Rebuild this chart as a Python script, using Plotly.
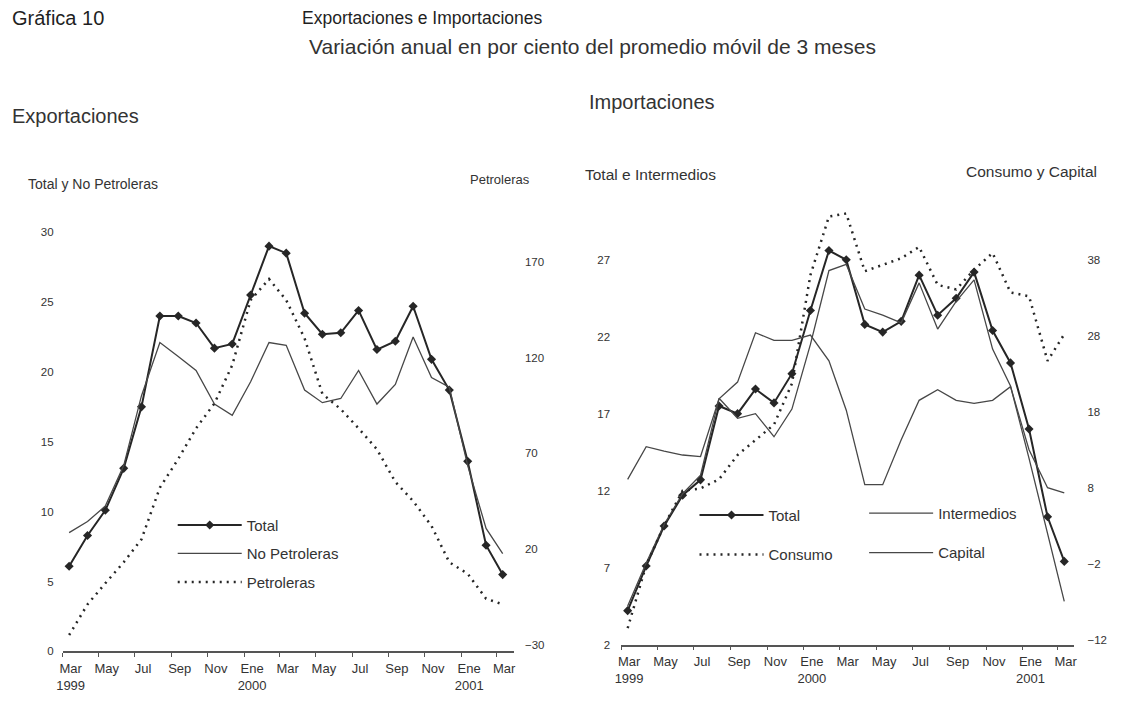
import plotly.graph_objects as go
import pandas as pd

# ---------------- data ----------------
meses = pd.date_range("1999-03-01", periods=25, freq="MS") + pd.Timedelta(days=11)
tick_fechas = pd.date_range("1999-03-01", "2001-03-01", freq="2MS")
tick_textos = ["Mar<br>1999", "May", "Jul", "Sep", "Nov", "Ene<br>2000", "Mar", "May",
               "Jul", "Sep", "Nov", "Ene<br>2001", "Mar"]

# Exportaciones (eje izquierdo: Total y No Petroleras; eje derecho: Petroleras)
exp_total = [6.1, 8.3, 10.1, 13.1, 17.5, 24.0, 24.0, 23.5, 21.7, 22.0, 25.5, 29.0, 28.5,
             24.2, 22.7, 22.8, 24.4, 21.6, 22.2, 24.7, 20.9, 18.7, 13.6, 7.6, 5.5]
exp_no_petroleras = [8.5, 9.3, 10.4, 13.3, 18.3, 22.1, 21.1, 20.1, 17.7, 16.9, 19.3, 22.1, 21.9,
                     18.7, 17.8, 18.1, 20.1, 17.7, 19.1, 22.5, 19.6, 18.9, 13.3, 8.8, 7.0]
exp_petroleras = [-25, -9, 2, 13, 25, 52, 67, 83, 96, 116, 150, 161, 150,
                  130, 101, 93, 83, 72, 55, 45, 32, 13, 7, -6, -9]

# Importaciones (eje izquierdo: Total e Intermedios; eje derecho: Consumo y Capital)
imp_total = [4.2, 7.1, 9.7, 11.7, 12.7, 17.5, 17.0, 18.6, 17.7, 19.6, 23.7, 27.6, 27.0,
             22.8, 22.3, 23.0, 26.0, 23.4, 24.5, 26.2, 22.4, 20.3, 16.0, 10.3, 7.4]
imp_intermedios = [4.5, 7.3, 9.8, 11.8, 13.0, 18.0, 16.7, 17.0, 15.5, 17.3, 21.5, 26.3, 26.7,
                   23.8, 23.4, 22.9, 25.5, 22.5, 24.3, 25.7, 21.2, 18.8, 14.1, 9.3, 4.8]
imp_consumo = [-10.5, -2.2, 3.0, 7.6, 7.9, 9.1, 12.3, 14.3, 16.3, 21.7, 36.0, 43.7, 44.1,
               36.5, 37.3, 38.2, 39.7, 34.7, 34.1, 36.7, 38.9, 33.7, 33.2, 24.7, 28.2]
imp_capital = [9.1, 13.4, 12.8, 12.3, 12.1, 19.7, 21.9, 28.4, 27.4, 27.4, 28.1, 24.7, 18.2,
               8.4, 8.4, 14.3, 19.5, 20.9, 19.5, 19.1, 19.5, 21.3, 13.0, 8.0, 7.3]

exp_ticks_izq = [0, 5, 10, 15, 20, 25, 30]
exp_ticks_der = [-30, 20, 70, 120, 170]
imp_ticks_izq = [2, 7, 12, 17, 22, 27]
imp_ticks_der = [-12, -2, 8, 18, 28, 38]

# ---------------- style ----------------
# the page body adds an 8px margin, so the figure is drawn 8px in and 8px down
OFF = 8
W, H = 1130 - OFF, 709 - OFF
FONT = "Liberation Sans, Arial, sans-serif"
TXT = "#333333"
DARK = "#1f1f1f"
LN = "#262626"
THIN = "#474747"
BG = "#ffffff"
DOTS = "2px,5px"


def px(x):
    return (x - OFF) / W


def py(y):
    return 1 - (y - OFF) / H


fig = go.Figure()

# Exportaciones
fig.add_trace(go.Scatter(x=meses, y=exp_total, name="Total", mode="lines+markers",
                         line=dict(color=LN, width=2),
                         marker=dict(symbol="diamond", size=7, color=LN),
                         xaxis="x", yaxis="y", legend="legend", legendgroup="e1"))
fig.add_trace(go.Scatter(x=meses, y=exp_no_petroleras, name="No Petroleras", mode="lines",
                         line=dict(color=THIN, width=1.3),
                         xaxis="x", yaxis="y", legend="legend", legendgroup="e2"))
fig.add_trace(go.Scatter(x=meses, y=exp_petroleras, name="Petroleras", mode="lines",
                         line=dict(color=LN, width=2.5, dash=DOTS),
                         xaxis="x", yaxis="y2", legend="legend", legendgroup="e3"))

# Importaciones
fig.add_trace(go.Scatter(x=meses, y=imp_total, name="Total", mode="lines+markers",
                         line=dict(color=LN, width=2),
                         marker=dict(symbol="diamond", size=7, color=LN),
                         xaxis="x2", yaxis="y3", legend="legend2", legendgroup="i1"))
fig.add_trace(go.Scatter(x=meses, y=imp_consumo, name="Consumo", mode="lines",
                         line=dict(color=LN, width=2.5, dash=DOTS),
                         xaxis="x2", yaxis="y4", legend="legend2", legendgroup="i2"))
fig.add_trace(go.Scatter(x=meses, y=imp_intermedios, name="Intermedios", mode="lines",
                         line=dict(color=THIN, width=1.3),
                         xaxis="x2", yaxis="y3", legend="legend3", legendgroup="i3"))
fig.add_trace(go.Scatter(x=meses, y=imp_capital, name="Capital", mode="lines",
                         line=dict(color=THIN, width=1.3),
                         xaxis="x2", yaxis="y4", legend="legend3", legendgroup="i4"))

xcommon = dict(type="date", showgrid=False, zeroline=False, showline=True,
               linecolor="#555", linewidth=1.5, ticks="outside", ticklen=4,
               tickcolor="#555", tickwidth=1.2, tickvals=tick_fechas, ticktext=tick_textos,
               tickangle=0, tickfont=dict(family=FONT, size=13, color=TXT),
               ticklabelshift=8)
ycommon = dict(showgrid=False, zeroline=False, showline=False, ticks="",
               tickfont=dict(family=FONT, size=11.5, color=TXT))

leg = dict(bgcolor="rgba(0,0,0,0)", font=dict(family=FONT, size=15, color=TXT),
           xanchor="left", yanchor="top", itemwidth=64, orientation="v")

fig.update_layout(
    width=W, height=H, autosize=False,
    margin=dict(l=0, r=0, t=0, b=0),
    paper_bgcolor=BG, plot_bgcolor=BG,
    font=dict(family=FONT, color=TXT),
    xaxis=dict(xcommon, domain=[px(57), px(512)], range=["1999-03-01", "2001-03-31"],
               anchor="y"),
    yaxis=dict(ycommon, domain=[py(657), py(220)], range=[0, 31],
               tickvals=exp_ticks_izq, anchor="x", ticklabelstandoff=8),
    yaxis2=dict(ycommon, overlaying="y", side="right", anchor="x",
                range=[-33.6, 192.8], tickvals=exp_ticks_der, ticklabelstandoff=10),
    xaxis2=dict(xcommon, domain=[px(620), px(1077)], range=["1999-03-01", "2001-03-29"],
                anchor="y3"),
    yaxis3=dict(ycommon, domain=[py(650), py(205)], range=[2, 30.67],
                tickvals=imp_ticks_izq, anchor="x2", ticklabelstandoff=10),
    yaxis4=dict(ycommon, overlaying="y3", side="right", anchor="x2",
                range=[-12.65, 45.44], tickvals=imp_ticks_der, ticklabelstandoff=12),
    legend=dict(leg, x=px(168), y=py(513), tracegroupgap=6),
    legend2=dict(leg, x=px(694), y=py(503), tracegroupgap=17),
    legend3=dict(leg, x=px(865), y=py(501), tracegroupgap=17),
    showlegend=True,
)

annots = [
    ("Gráfica 10", 4, 18, 20, DARK),
    ("Exportaciones e Importaciones", 296, 18, 17.5, DARK),
    ("Variación anual en por ciento del promedio móvil de 3 meses", 303, 47, 21, TXT),
    ("Exportaciones", 4, 117, 20, TXT),
    ("Importaciones", 586, 103, 20, TXT),
    ("Total y No Petroleras", 20, 186, 14, TXT),
    ("Petroleras", 466, 181, 13, TXT),
    ("Total e Intermedios", 582, 176, 15.5, TXT),
    ("Consumo y Capital", 966, 173, 15.5, TXT),
]
for txt, x, y, s, c in annots:
    fig.add_annotation(text=txt, x=px(x), y=py(y), xref="paper", yref="paper",
                       xanchor="left", yanchor="middle", showarrow=False,
                       font=dict(family=FONT, size=s, color=c))

fig.write_html("out.html")
